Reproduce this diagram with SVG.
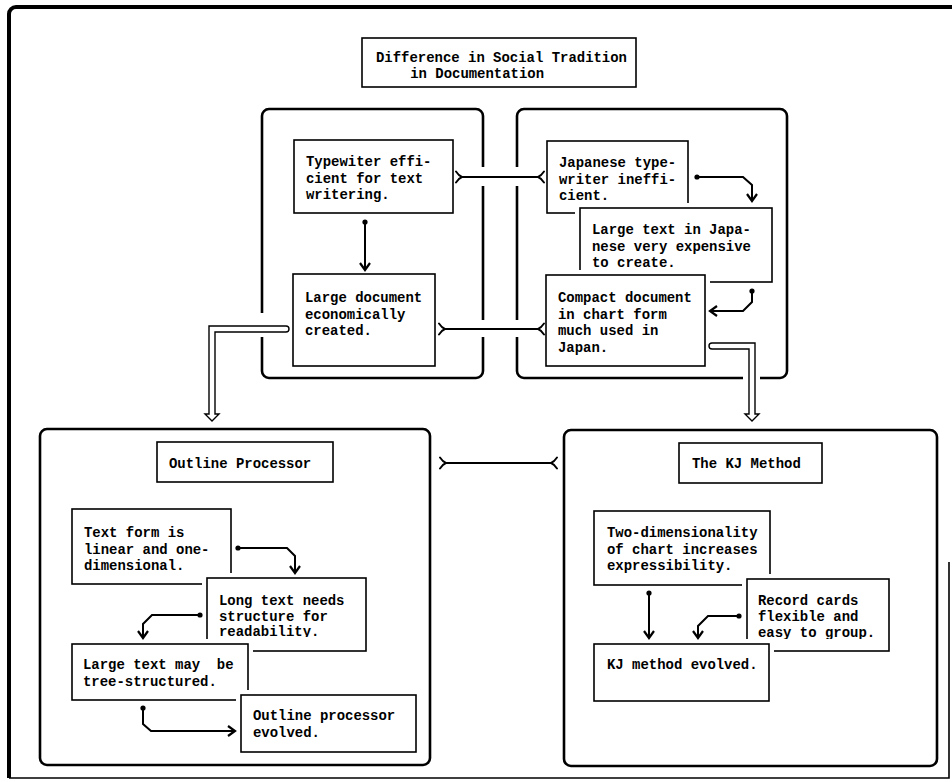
<svg xmlns="http://www.w3.org/2000/svg" width="952" height="782" viewBox="0 0 952 782">
<style>
.box{fill:#fff;stroke:#000;stroke-width:1.6}
.halo{fill:#fff;stroke:#fff;stroke-width:10}
.grp{fill:none;stroke:#000;stroke-width:2.6;stroke-linejoin:round;stroke-linecap:butt}
.t{font-family:"Liberation Mono","DejaVu Sans Mono",monospace;font-size:15.5px;font-weight:bold;fill:#000}
.c{fill:none;stroke:#000;stroke-width:2}
.hollow{fill:#fff;stroke:#000;stroke-width:1.4;stroke-linejoin:miter}
</style>
<defs>
<marker id="dot" markerUnits="userSpaceOnUse" markerWidth="8" markerHeight="8" refX="4" refY="4" orient="auto">
<circle cx="4" cy="4" r="2.6" fill="#000"/>
</marker>
<marker id="head" markerUnits="userSpaceOnUse" markerWidth="14" markerHeight="14" refX="10" refY="7" orient="auto">
<path d="M3,2 L10,7 L3,12" fill="none" stroke="#000" stroke-width="2.2"/>
</marker>
<marker id="fork" markerUnits="userSpaceOnUse" markerWidth="12" markerHeight="16" refX="1" refY="8" orient="auto-start-reverse">
<path d="M1,8 Q4,7 7,2.5 M1,8 Q4,9 7,13.5" fill="none" stroke="#000" stroke-width="1.9" stroke-linecap="round"/>
</marker>
<clipPath id="clipLong"><rect x="200" y="570" width="175" height="67"/></clipPath>
<clipPath id="clipRec"><rect x="740" y="570" width="160" height="69"/></clipPath>
</defs>
<rect x="0" y="0" width="952" height="782" fill="#fff"/>

<g id="frame">
<path d="M9,778 V14 A7,7 0 0 1 16,7 H952" fill="none" stroke="#000" stroke-width="4"/>
<path d="M9,778 H949 V562" fill="none" stroke="#000" stroke-width="1.6"/>
</g>

<g id="title">
<rect class="box" x="362" y="38" width="274" height="49"/>
<text class="t" transform="translate(376,62) scale(0.9,1)"><tspan x="0" y="0">Difference in Social Tradition</tspan><tspan x="38" y="16">in Documentation</tspan></text>
</g>

<g id="group-west">
<path class="grp" d="M262,313 V116 A7,7 0 0 1 269,109 H476 A7,7 0 0 1 483,116 V167 M483,186 V320 M483,337 V371 A7,7 0 0 1 476,378 H269 A7,7 0 0 1 262,371 V337"/>
</g>
<g id="group-japan">
<path class="grp" d="M517,167 V116 A7,7 0 0 1 524,109 H780 A7,7 0 0 1 787,116 V371 A7,7 0 0 1 780,378 H760 M743,378 H524 A7,7 0 0 1 517,371 V337 M517,320 V186"/>
</g>
<g id="group-outline">
<rect class="grp" x="40" y="429" width="390" height="336" rx="7"/>
</g>
<g id="group-kj">
<rect class="grp" x="564" y="430" width="373" height="336" rx="7"/>
</g>

<g id="n-typewriter">
<rect class="box" x="294" y="140" width="159" height="73"/>
<text class="t" transform="translate(306,166) scale(0.9,1)"><tspan x="0" y="0">Typewiter effi-</tspan><tspan x="0" y="16.7">cient for text</tspan><tspan x="0" y="33.4">writering.</tspan></text>
</g>
<g id="n-largedoc">
<rect class="box" x="293" y="274" width="142" height="92"/>
<text class="t" transform="translate(305,302) scale(0.9,1)"><tspan x="0" y="0">Large document</tspan><tspan x="0" y="16.7">economically</tspan><tspan x="0" y="33.4">created.</tspan></text>
</g>

<g id="n-jtype">
<rect class="box" x="547" y="141" width="141" height="72"/>
<text class="t" transform="translate(559,167) scale(0.9,1)"><tspan x="0" y="0">Japanese type-</tspan><tspan x="0" y="16.7">writer ineffi-</tspan><tspan x="0" y="33.4">cient.</tspan></text>
</g>
<g id="n-jlarge">
<rect class="halo" x="580" y="208" width="192" height="74"/>
<rect class="box" x="580" y="208" width="192" height="74"/>
<text class="t" transform="translate(592,234) scale(0.9,1)"><tspan x="0" y="0">Large text in Japa-</tspan><tspan x="0" y="16.7">nese very expensive</tspan><tspan x="0" y="33.4">to create.</tspan></text>
</g>
<g id="n-compact">
<rect class="halo" x="546" y="275" width="159" height="91"/>
<rect class="box" x="546" y="275" width="159" height="91"/>
<text class="t" transform="translate(558,302) scale(0.9,1)"><tspan x="0" y="0">Compact document</tspan><tspan x="0" y="16.7">in chart form</tspan><tspan x="0" y="33.4">much used in</tspan><tspan x="0" y="50.1">Japan.</tspan></text>
</g>

<g id="n-outline-title">
<rect class="box" x="157" y="442" width="176" height="40"/>
<text class="t" transform="translate(169,468) scale(0.9,1)">Outline Processor</text>
</g>
<g id="n-textform">
<rect class="box" x="72" y="509" width="159" height="75"/>
<text class="t" transform="translate(84,537) scale(0.9,1)"><tspan x="0" y="0">Text form is</tspan><tspan x="0" y="16.7">linear and one-</tspan><tspan x="0" y="33.4">dimensional.</tspan></text>
</g>
<g id="n-longtext">
<rect class="halo" x="207" y="578" width="159" height="73"/>
<rect class="box" x="207" y="578" width="159" height="73"/>
<g clip-path="url(#clipLong)">
<text class="t" transform="translate(219,605) scale(0.9,1)"><tspan x="0" y="0">Long text needs</tspan><tspan x="0" y="15.7">structure for</tspan><tspan x="0" y="31.4">readability.</tspan></text>
</g>
</g>
<g id="n-largetext">
<rect class="halo" x="72" y="644" width="176" height="56"/>
<rect class="box" x="72" y="644" width="176" height="56"/>
<text class="t" transform="translate(83,669) scale(0.9,1)" xml:space="preserve"><tspan x="0" y="0">Large text may  be</tspan><tspan x="0" y="16.7">tree-structured.</tspan></text>
</g>
<g id="n-outline-evolved">
<rect class="halo" x="241" y="695" width="175" height="57"/>
<rect class="box" x="241" y="695" width="175" height="57"/>
<text class="t" transform="translate(253,720) scale(0.9,1)"><tspan x="0" y="0">Outline processor</tspan><tspan x="0" y="16.7">evolved.</tspan></text>
</g>

<g id="n-kj-title">
<rect class="box" x="679" y="443" width="143" height="40"/>
<text class="t" transform="translate(692,468) scale(0.9,1)">The KJ Method</text>
</g>
<g id="n-twodim">
<rect class="box" x="594" y="511" width="176" height="74"/>
<text class="t" transform="translate(607,537) scale(0.9,1)"><tspan x="0" y="0">Two-dimensionality</tspan><tspan x="0" y="16.7">of chart increases</tspan><tspan x="0" y="33.4">expressibility.</tspan></text>
</g>
<g id="n-record">
<rect class="halo" x="747" y="579" width="142" height="72"/>
<rect class="box" x="747" y="579" width="142" height="72"/>
<g clip-path="url(#clipRec)">
<text class="t" transform="translate(758,605) scale(0.9,1)"><tspan x="0" y="0">Record cards</tspan><tspan x="0" y="16.3">flexible and</tspan><tspan x="0" y="32">easy to group.</tspan></text>
</g>
</g>
<g id="n-kj-evolved">
<rect class="halo" x="594" y="644" width="175" height="57"/>
<rect class="box" x="594" y="644" width="175" height="57"/>
<text class="t" transform="translate(607,669) scale(0.9,1)">KJ method evolved.</text>
</g>

<g id="connectors">
<path class="c" d="M462,177 H538" marker-start="url(#fork)" marker-end="url(#fork)"/>
<path class="c" d="M445,329 H538" marker-start="url(#fork)" marker-end="url(#fork)"/>
<path class="c" d="M446,463 H551" marker-start="url(#fork)" marker-end="url(#fork)"/>
<path class="c" d="M365,222 V270" marker-start="url(#dot)" marker-end="url(#head)"/>
<path class="c" d="M697,177 H743 L752,185 V201" marker-start="url(#dot)" marker-end="url(#head)"/>
<path class="c" d="M752,291 V302 L743,311 H710" marker-start="url(#dot)" marker-end="url(#head)"/>
<path class="c" d="M238,548 H287 L295,556 V573" marker-start="url(#dot)" marker-end="url(#head)"/>
<path class="c" d="M200,615 H152 L143,624 V638" marker-start="url(#dot)" marker-end="url(#head)"/>
<path class="c" d="M143,708 V724 L151,731 H235" marker-start="url(#dot)" marker-end="url(#head)"/>
<path class="c" d="M649,593 V638" marker-start="url(#dot)" marker-end="url(#head)"/>
<path class="c" d="M739,616 H708 L698,626 V638" marker-start="url(#dot)" marker-end="url(#head)"/>
<path class="hollow" d="M286,326 H209 V414 H205 L212,421 L219,414 H215 V332 H286 A3,3 0 0 0 286,326 Z"/>
<path class="hollow" d="M712,343 H755 V414 H759 L752,421 L745,414 H749 V349 H712 A3,3 0 0 1 712,343 Z"/>
</g>
</svg>
